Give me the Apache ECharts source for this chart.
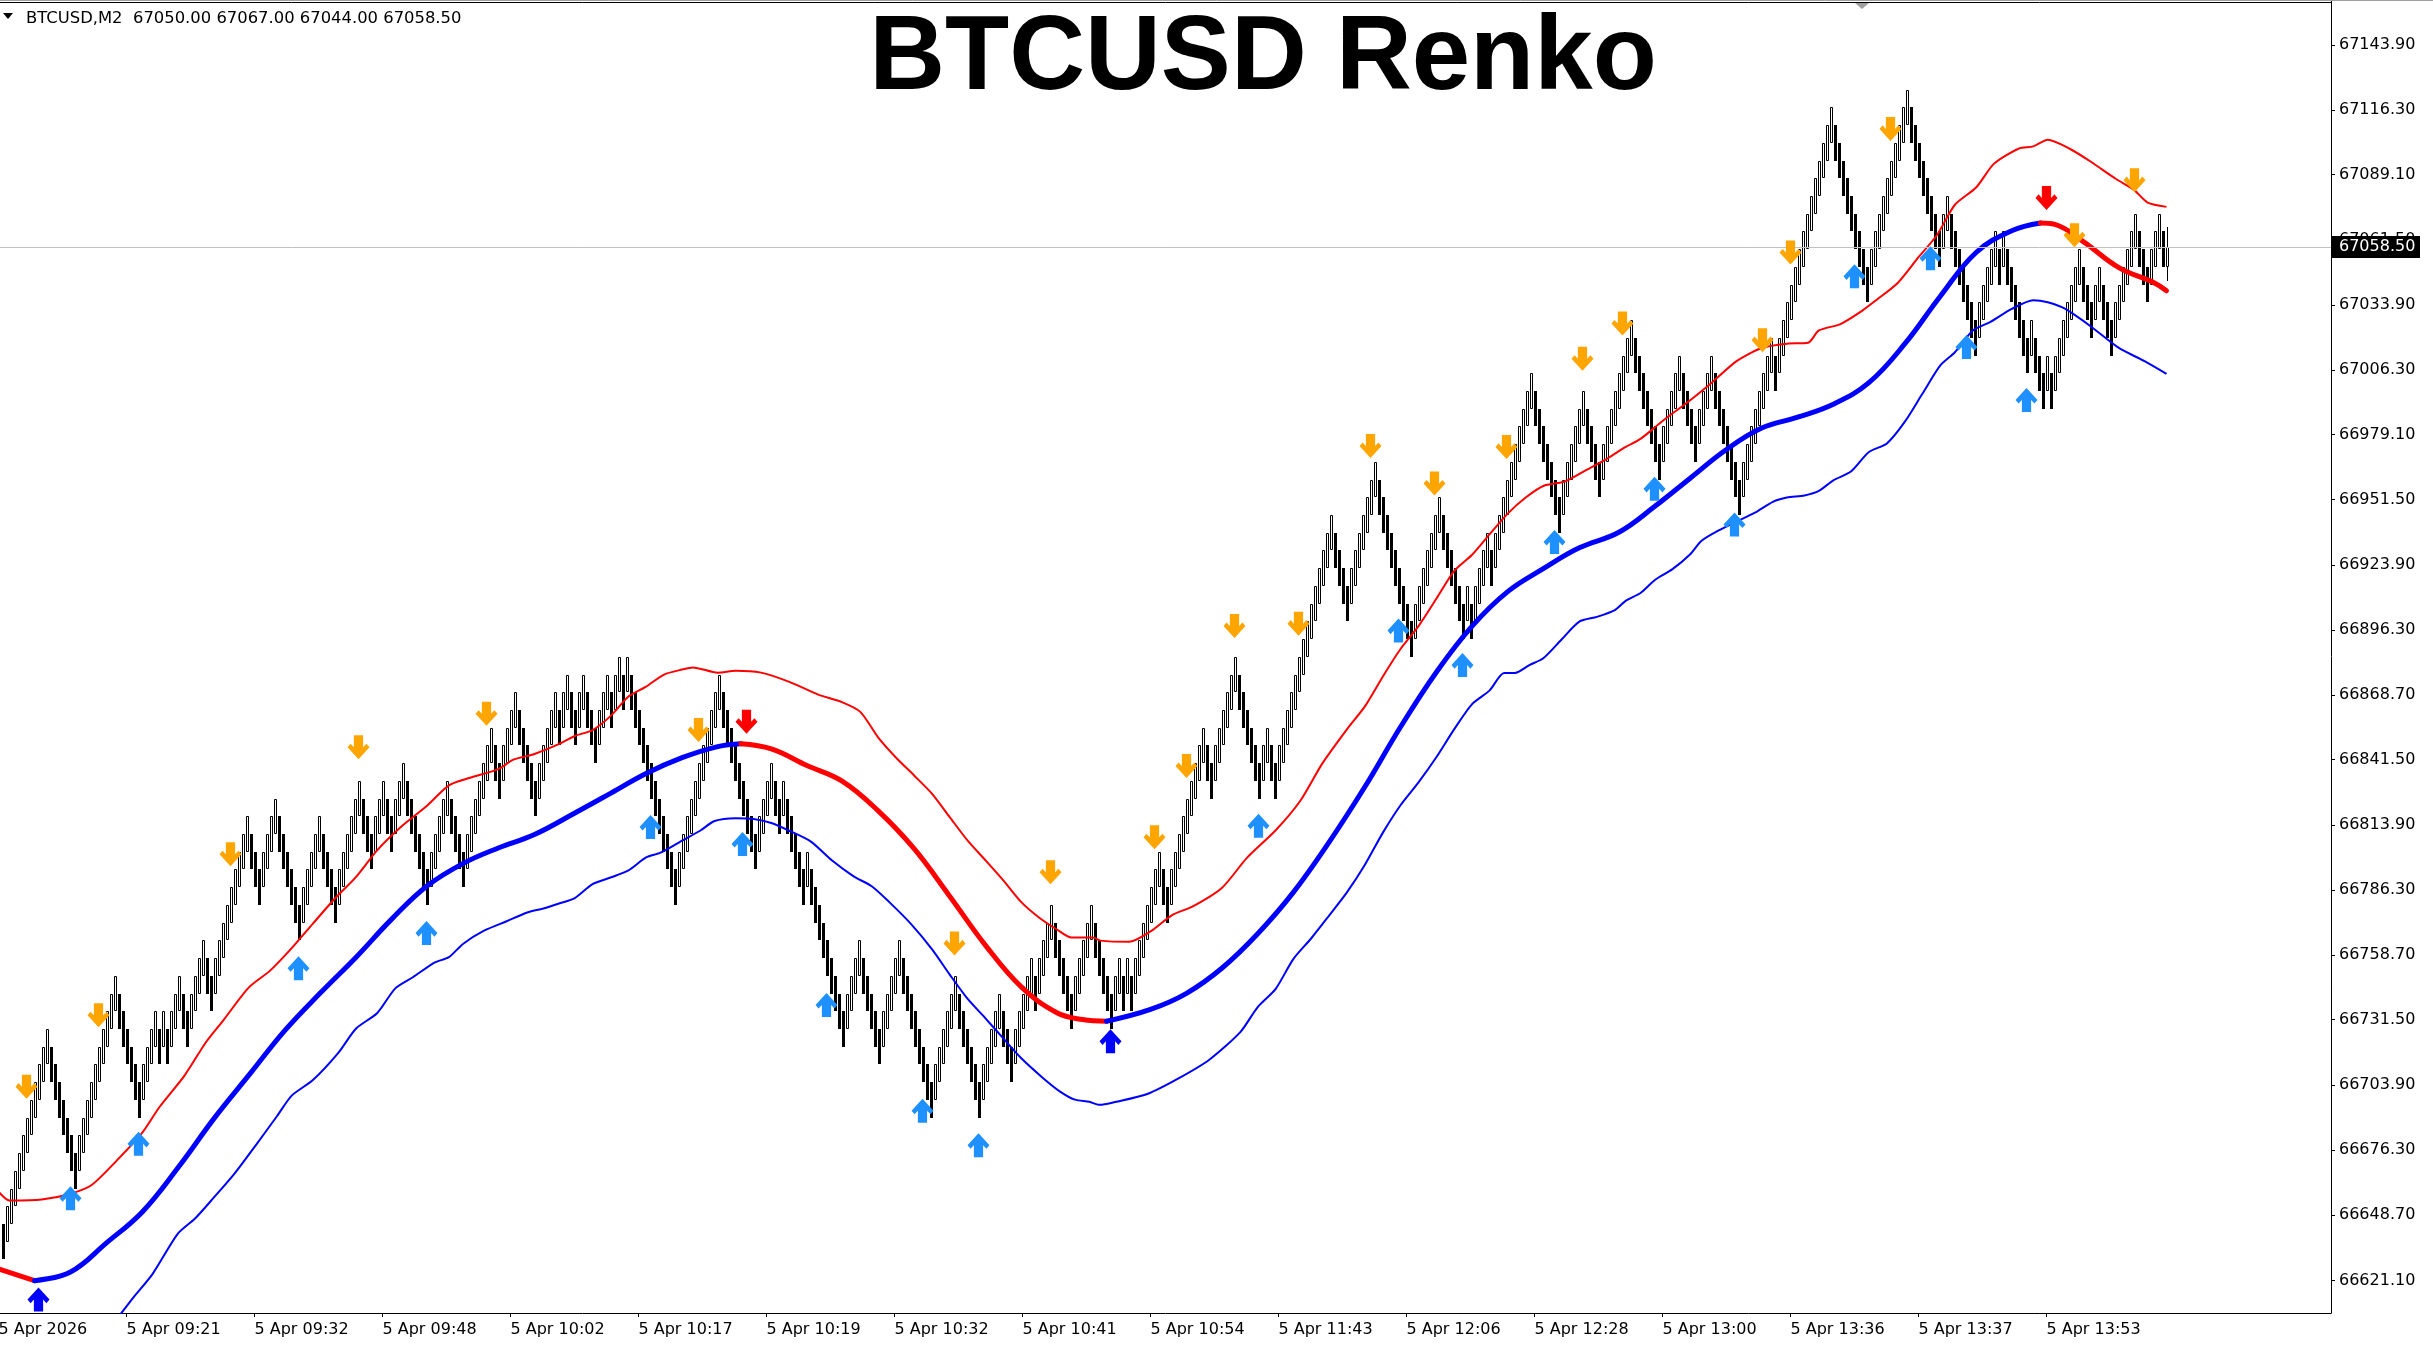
<!DOCTYPE html>
<html><head><meta charset="utf-8">
<script src="https://cdn.jsdelivr.net/npm/echarts@6/dist/echarts.min.js"></script>
<style>html,body{margin:0;padding:0;background:#fff;}#c{width:2433px;height:1347px;}</style>
</head><body><div id="c"></div><script>
// ---------------- DATA ----------------
const symbolTitle = 'BTCUSD Renko';
const headerText = 'BTCUSD,M2  67050.00 67067.00 67044.00 67058.50';
const BRICK_SIZE = 15;          // height of one Renko brick (price units)
const firstBrickUp = false;     // first visible brick is a bear (black) brick
// top price of each completed brick, left to right
const brickTops = [
66645,66652.5,66660,66667.5,66675,66682.5,66690,66697.5,66705,66712.5,
66720,66727.5,66720,66712.5,66705,66697.5,66690,66682.5,66675,66682.5,
66690,66697.5,66705,66712.5,66720,66727.5,66735,66742.5,66750,66742.5,
66735,66727.5,66720,66712.5,66705,66712.5,66720,66727.5,66735,66727.5,
66735,66727.5,66735,66742.5,66750,66742.5,66735,66742.5,66750,66757.5,
66765,66757.5,66750,66757.5,66765,66772.5,66780,66787.5,66795,66802.5,
66810,66817.5,66810,66802.5,66795,66802.5,66810,66817.5,66825,66817.5,
66810,66802.5,66795,66787.5,66780,66787.5,66795,66802.5,66810,66817.5,
66810,66802.5,66795,66787.5,66795,66802.5,66810,66817.5,66825,66832.5,
66825,66817.5,66810,66817.5,66825,66832.5,66825,66817.5,66825,66832.5,
66840,66832.5,66825,66817.5,66810,66802.5,66795,66802.5,66810,66817.5,
66825,66832.5,66825,66817.5,66810,66802.5,66810,66817.5,66825,66832.5,
66840,66847.5,66855,66847.5,66840,66847.5,66855,66862.5,66870,66862.5,
66855,66847.5,66840,66832.5,66840,66847.5,66855,66862.5,66870,66862.5,
66870,66877.5,66870,66862.5,66870,66877.5,66870,66862.5,66855,66862.5,
66870,66877.5,66870,66877.5,66885,66877.5,66885,66877.5,66870,66862.5,
66855,66847.5,66840,66832.5,66825,66817.5,66810,66802.5,66795,66802.5,
66810,66817.5,66825,66832.5,66840,66847.5,66855,66862.5,66870,66877.5,
66870,66862.5,66855,66847.5,66840,66832.5,66825,66817.5,66810,66817.5,
66825,66832.5,66840,66832.5,66825,66832.5,66825,66817.5,66810,66802.5,
66795,66802.5,66795,66787.5,66780,66772.5,66765,66757.5,66750,66742.5,
66735,66742.5,66750,66757.5,66765,66757.5,66750,66742.5,66735,66727.5,
66735,66742.5,66750,66757.5,66765,66757.5,66750,66742.5,66735,66727.5,
66720,66712.5,66705,66712.5,66720,66727.5,66735,66742.5,66750,66742.5,
66735,66727.5,66720,66712.5,66705,66712.5,66720,66727.5,66735,66742.5,
66735,66727.5,66720,66727.5,66735,66742.5,66750,66757.5,66750,66757.5,
66765,66772.5,66780,66772.5,66765,66757.5,66750,66742.5,66750,66757.5,
66765,66772.5,66780,66772.5,66765,66757.5,66750,66742.5,66750,66757.5,
66750,66757.5,66750,66757.5,66765,66772.5,66780,66787.5,66795,66802.5,
66795,66787.5,66795,66802.5,66810,66817.5,66825,66832.5,66840,66847.5,
66855,66847.5,66840,66847.5,66855,66862.5,66870,66877.5,66885,66877.5,
66870,66862.5,66855,66847.5,66840,66847.5,66855,66847.5,66840,66847.5,
66855,66862.5,66870,66877.5,66885,66892.5,66900,66907.5,66915,66922.5,
66930,66937.5,66945,66937.5,66930,66922.5,66915,66922.5,66930,66937.5,
66945,66952.5,66960,66967.5,66960,66952.5,66945,66937.5,66930,66922.5,
66915,66907.5,66900,66907.5,66915,66922.5,66930,66937.5,66945,66952.5,
66945,66937.5,66930,66922.5,66915,66907.5,66915,66907.5,66915,66922.5,
66930,66937.5,66930,66937.5,66945,66952.5,66960,66967.5,66975,66982.5,
66990,66997.5,67005,66997.5,66990,66982.5,66975,66967.5,66960,66952.5,
66960,66967.5,66975,66982.5,66990,66997.5,66990,66982.5,66975,66967.5,
66975,66982.5,66990,66997.5,67005,67012.5,67020,67027.5,67020,67012.5,
67005,66997.5,66990,66982.5,66975,66982.5,66990,66997.5,67005,67012.5,
67005,66997.5,66990,66982.5,66990,66997.5,67005,67012.5,67005,66997.5,
66990,66982.5,66975,66967.5,66960,66967.5,66975,66982.5,66990,66997.5,
67005,67012.5,67020,67012.5,67020,67027.5,67035,67042.5,67050,67057.5,
67065,67072.5,67080,67087.5,67095,67102.5,67110,67117.5,67110,67102.5,
67095,67087.5,67080,67072.5,67065,67057.5,67050,67057.5,67065,67072.5,
67080,67087.5,67095,67102.5,67110,67117.5,67125,67117.5,67110,67102.5,
67095,67087.5,67080,67072.5,67065,67072.5,67080,67072.5,67065,67057.5,
67050,67042.5,67035,67027.5,67035,67042.5,67050,67057.5,67065,67057.5,
67065,67057.5,67050,67042.5,67035,67027.5,67020,67027.5,67020,67012.5,
67005,67012.5,67005,67012.5,67020,67027.5,67035,67042.5,67050,67057.5,
67050,67042.5,67035,67042.5,67050,67042.5,67035,67027.5,67035,67042.5,
67050,67057.5,67065,67072.5,67065,67057.5,67050,67057.5,67065,67072.5,
67065
];
// forming (last) bar: open, close, low, high
const lastBar = [67050.00, 67058.50, 67044.00, 67067.00];
const priceNow = 67058.50;

// thick smoothed middle line [bar, price]
const maLine = [[-1,66626],[8,66621],[17,66624.7],[26,66637],[35,66650.2],[44,66669.1],[53,66689.9],[62,66708.8],[70.5,66726.7],[79.5,66742.8],[88.4,66757.9],[97.3,66774],[106.2,66788.1],[115.2,66797.6],[124.1,66804.2],[133,66809.8],[143.1,66818.9],[152,66827.2],[160.9,66835.6],[169.9,66842.3],[178.8,66847],[184.6,66848.2],[192.2,66846],[201.1,66839],[210,66832.3],[219,66819.7],[227.9,66803.8],[236.8,66783.7],[245.8,66762.8],[254.7,66745.3],[263.6,66734.4],[270,66731.5],[276,66730.8],[287,66735.8],[296,66742.6],[304.9,66753.3],[313.8,66767.8],[322.7,66785.3],[331.7,66806.7],[340.6,66830],[349.5,66855.3],[358.5,66878.6],[367.4,66898],[376.3,66912.6],[385.2,66922.3],[394.2,66931.1],[404.1,66937.7],[413.1,66948.7],[422,66960.7],[430.9,66972.6],[439.8,66981.8],[448.8,66986.4],[457.7,66991.9],[466.6,67001],[475.6,67017.5],[484.5,67037.7],[493.4,67056.1],[502.3,67065.3],[509.5,67068.6],[513.1,67068],[520.2,67060.7],[529.1,67049.7],[538,67043.2],[541,67039.9]];
// upper band (thin red)
const upperBand = [[-1,66658.7],[1.8,66654.9],[9.8,66655.3],[17,66657.8],[22.3,66661.5],[28.6,66671.9],[34.8,66683.3],[39.3,66694.6],[45.5,66707.8],[50.9,66722],[55.3,66731.4],[61.6,66745.1],[66.9,66752.2],[72.3,66761.7],[77.6,66772.1],[83,66782.5],[88.4,66791.9],[93.7,66803.2],[100,66813.6],[106.2,66822.1],[111.6,66830.6],[116.9,66833.8],[124.1,66837.6],[127.6,66841.4],[133,66843.9],[138.6,66847.7],[143.1,66851.5],[147.5,66854],[152,66859.9],[156.5,66868.2],[160.9,66872.4],[165.4,66877.5],[169.9,66879.6],[172.6,66880.5],[178.8,66878.3],[183.3,66879.1],[189.6,66878.3],[196.7,66874.4],[203.8,66869.1],[210,66865.7],[214.5,66861.6],[219,66850.7],[223.4,66842.3],[227.9,66834.8],[232.3,66827.2],[236.8,66817.2],[241.3,66807.2],[245.8,66798.8],[250.2,66790.4],[254.7,66781.2],[259.2,66774.6],[263.6,66769.6],[267.2,66766.2],[272.6,66766.2],[274.5,66764.9],[281.6,66764.4],[287,66768.8],[292.3,66775.6],[297.7,66779.5],[304.9,66787.3],[311.1,66799.9],[318.3,66811.6],[324.5,66824.2],[329.9,66839.7],[336.1,66854.3],[340.6,66864],[345.1,66876.7],[349.5,66888.3],[354,66898],[358.5,66909.7],[362.9,66921.3],[367.4,66928.2],[371.8,66936.9],[376.3,66945.6],[380.8,66952.4],[385.2,66957.3],[390.6,66959.2],[396,66964.1],[401.3,66969],[405.8,66973.8],[409.5,66977.2],[414.8,66984.5],[422,66993.7],[427.3,67001],[433.6,67010.2],[439.8,67015.7],[446.1,67017.5],[451.4,67017.9],[454.1,67023.1],[459.5,67025.8],[464.8,67031.3],[468.4,67035.9],[473.8,67043.2],[479.1,67054.3],[483.6,67063.4],[488.1,67076.3],[493.4,67083.6],[497.9,67093.7],[504.1,67100.1],[507.7,67101],[511.3,67103.8],[516.7,67100.1],[522,67094.6],[528.3,67087.3],[532.8,67082.7],[536.3,67077.2],[541,67075.4]];
// lower band (thin blue)
const lowerBand = [[22,66590],[32.2,66612.8],[37.5,66623.8],[43.8,66640.8],[48.2,66647.4],[52.7,66655.9],[58,66666.3],[63.4,66678.5],[68.7,66690.8],[72.3,66699.3],[77.6,66705.9],[83.9,66717.3],[88.4,66727.7],[93.7,66734.3],[98.2,66744.7],[102.6,66749.4],[108,66755.6],[111.6,66757.9],[115.2,66763.6],[120.5,66769.2],[125.9,66773],[131.2,66776.8],[135.7,66778.7],[139.1,66780.6],[143.1,66782.9],[147.5,66788.8],[152,66791.6],[156.5,66794.6],[160.9,66800.1],[164.5,66802.1],[169.9,66807.2],[174.4,66811.4],[178,66815.5],[183.3,66816.7],[187.8,66816.4],[192.2,66814.7],[196.7,66811.4],[202.1,66806.8],[207.4,66798.8],[212.8,66792.1],[217.3,66787.9],[221.7,66781.2],[227.1,66772],[232.4,66761.2],[236.9,66750.3],[241.3,66740.2],[245.8,66731.9],[250.2,66723.5],[254.7,66715.1],[260.1,66706.8],[264.5,66700.9],[268.1,66697.6],[271.7,66696.7],[274.2,66695.4],[278.4,66696.7],[286.2,66700],[294,66706.6],[301.7,66714.5],[309.5,66726.3],[313.8,66736.8],[318.3,66744.5],[322.7,66757.1],[327.2,66765.9],[331.7,66775.6],[336.1,66785.3],[340.6,66797],[345.1,66810.6],[349.5,66822.2],[354,66831.9],[358.5,66842.6],[362.9,66854.3],[367.4,66865],[371.8,66870.8],[375.4,66878.2],[378.1,66878.2],[381.7,66881.5],[385.2,66884.4],[389.7,66892.2],[394.2,66899.9],[398.6,66901.9],[403.1,66904.8],[405.8,66908.7],[409.5,66912],[413.1,66917.5],[417.5,66922.1],[422,66928.5],[424.7,66934],[429.2,66938.6],[433.6,66942.3],[438.1,66946],[442.6,66950.6],[446.1,66952.4],[450.5,66953.3],[454.1,66955.2],[457.7,66959.7],[462.1,66963.4],[466.6,66971.7],[471.1,66975.3],[475.6,66984.5],[480,66996.4],[484.5,67008.4],[488.1,67013.9],[492.6,67023.1],[497,67026.7],[502.3,67032.2],[507.7,67035.9],[511.3,67035],[515.7,67032.2],[522,67024.9],[529.1,67015.7],[535.4,67010.2],[541,67004.7]];
// signal arrows [bar, price]
const orangeDown = [[6,66703.1],[24,66733.3],[57,66801.4],[89,66846.7],[121,66860.9],[174,66854],[238,66763.7],[262,66793.8],[288,66808.6],[296,66838.8],[308,66898],[324,66899],[342,66974.2],[358,66958.3],[376,66973.8],[395,67011.1],[405,67026],[440,67019],[447,67056.1],[472,67108.4],[518,67063.4],[533,67086.7]];
const lightUp = [[17,66655.9],[34,66678.9],[74,66753.2],[106,66768.1],[162,66813],[185,66805.8],[206,66737.7],[230,66692.9],[244,66678.3],[314,66813.5],[349,66896.1],[365,66881.5],[388,66933.6],[413,66956.1],[433,66941],[463,67046],[482,67053.7],[491,67016.1],[506,66993.7]];
const blueUp = [[9,66613],[277,66722.3]];
const redDown = [[186,66857.5],[511,67079.2]];
// axis labels
const priceTicks = [67143.90,67116.30,67089.10,67061.50,67033.90,67006.30,66979.10,66951.50,66923.90,66896.30,66868.70,66841.50,66813.90,66786.30,66758.70,66731.50,66703.90,66676.30,66648.70,66621.10];
const timeLabels = ['5 Apr 2026','5 Apr 09:21','5 Apr 09:32','5 Apr 09:48','5 Apr 10:02','5 Apr 10:17','5 Apr 10:19','5 Apr 10:32','5 Apr 10:41','5 Apr 10:54','5 Apr 11:43','5 Apr 12:06','5 Apr 12:28','5 Apr 13:00','5 Apr 13:36','5 Apr 13:37','5 Apr 13:53'];
const timeLabelBars = [-1,31,63,95,127,159,191,223,255,287,319,351,383,415,447,479,511];

// ---------------- BUILD ----------------
const FONT = '"DejaVu Sans", "Noto Sans", sans-serif';
const X_MIN = -0.625, X_MAX = 582.125;   // bar index range visible in the plot
const brickData = brickTops.map((top, i) => {
  const up = i === 0 ? firstBrickUp : top > brickTops[i - 1];
  const open = up ? top - BRICK_SIZE : top;
  const close = up ? top : top - BRICK_SIZE;
  return [i, open, close, top - BRICK_SIZE, top];
});
brickData.push([brickTops.length, lastBar[0], lastBar[1], lastBar[2], lastBar[3]]);

function renderBrick(params, api) {
  const i = api.value(0), o = api.value(1), c = api.value(2), lo = api.value(3), hi = api.value(4);
  const bodyHi = Math.max(o, c), bodyLo = Math.min(o, c);
  const pT = api.coord([i, bodyHi]), pB = api.coord([i, bodyLo]);
  const cx = Math.round(pT[0]);
  const yT = Math.round(pT[1]), yB = Math.round(pB[1]);
  const kids = [];
  if (hi > bodyHi + 1e-9 || lo < bodyLo - 1e-9) {
    const ph = api.coord([i, hi]), pl = api.coord([i, lo]);
    kids.push({type: 'line', shape: {x1: cx + 0.5, y1: Math.round(ph[1]), x2: cx + 0.5, y2: Math.round(pl[1])}, style: {stroke: '#000', lineWidth: 1}});
  }
  if (c > o) {
    kids.push({type: 'rect', shape: {x: cx - 0.5, y: yT + 0.5, width: 2, height: Math.max(1, yB - yT - 1)}, style: {fill: '#fff', stroke: '#000', lineWidth: 1}});
  } else {
    kids.push({type: 'rect', shape: {x: cx - 1, y: yT, width: 3, height: Math.max(1, yB - yT)}, style: {fill: '#000'}});
  }
  return {type: 'group', children: kids};
}

function colourRuns(points) {
  const runs = [];
  let cur = null;
  for (let k = 0; k < points.length - 1; k++) {
    const up = points[k + 1][1] >= points[k][1];
    if (!cur || cur.up !== up) { cur = {up: up, pts: [points[k]]}; runs.push(cur); }
    cur.pts.push(points[k + 1]);
  }
  return runs;
}

const DOWN_PATH = 'path://M29,0 L71,0 L71,50 L86,35 L100,50 L50,100 L0,50 L14,35 L29,50 Z';
const UP_PATH = 'path://M29,100 L71,100 L71,50 L86,65 L100,50 L50,0 L0,50 L14,65 L29,50 Z';
function arrowSeries(data, path, color) {
  return {type: 'scatter', data: data, symbol: path, symbolSize: [22, 24], itemStyle: {color: color, opacity: 1},
    z: 6, silent: true, animation: false, clip: true};
}

const series = [
  {type: 'line', data: [], z: 1, silent: true, animation: false,
   markLine: {silent: true, symbol: 'none', animation: false, label: {show: false},
     lineStyle: {color: '#C0C0C0', width: 1, type: 'solid'}, data: [{yAxis: priceNow}]}},
  {type: 'custom', renderItem: renderBrick, data: brickData, encode: {x: 0, y: [1, 2, 3, 4]}, z: 2, clip: true, silent: true, animation: false},
  {type: 'line', data: upperBand, symbol: 'none', smooth: 0.25, lineStyle: {color: '#FF0000', width: 2}, z: 3, silent: true, animation: false},
  {type: 'line', data: lowerBand, symbol: 'none', smooth: 0.25, lineStyle: {color: '#0000FF', width: 2}, z: 3, silent: true, animation: false}
];
colourRuns(maLine).forEach(r => series.push({type: 'line', data: r.pts, symbol: 'none', smooth: 0.4,
  lineStyle: {color: r.up ? '#0000FF' : '#FF0000', width: 5, cap: 'round'}, z: 4, silent: true, animation: false}));
series.push(arrowSeries(orangeDown, DOWN_PATH, '#FFA500'));
series.push(arrowSeries(lightUp, UP_PATH, '#1E90FF'));
series.push(arrowSeries(blueUp, UP_PATH, '#0000FF'));
series.push(arrowSeries(redDown, DOWN_PATH, '#FF0000'));

const inRangeBars = timeLabelBars.filter(b => b >= X_MIN && b <= X_MAX);
const chart = echarts.init(document.getElementById('c'), null, {renderer: 'canvas'});
chart.setOption({
  animation: false,
  backgroundColor: '#fff',
  grid: {left: 0, right: 102, top: 0, bottom: 34, containLabel: false},
  xAxis: {type: 'value', min: X_MIN, max: X_MAX,
    axisLine: {show: true, onZero: false, lineStyle: {color: '#000', width: 1}},
    splitLine: {show: false},
    axisTick: {show: true, customValues: inRangeBars, length: 4, lineStyle: {color: '#000'}},
    axisLabel: {show: true, customValues: inRangeBars, align: 'left', margin: 9,
      fontFamily: FONT, fontSize: 16, color: '#000',
      formatter: v => { const k = timeLabelBars.indexOf(Math.round(v)); return k >= 0 ? timeLabels[k] : ''; }}},
  yAxis: {type: 'value', position: 'right', min: 66607.32, max: 67162.94, scale: true,
    axisLine: {show: true, onZero: false, lineStyle: {color: '#000', width: 1}},
    splitLine: {show: false},
    axisTick: {show: true, customValues: priceTicks, length: 4, lineStyle: {color: '#000'}},
    axisLabel: {show: true, customValues: priceTicks, margin: 8, fontFamily: FONT, fontSize: 16, color: '#000',
      formatter: v => v.toFixed(2)}},
  series: series
});

const py = chart.convertToPixel({yAxisIndex: 0}, priceNow);
const graphics = [
  {type: 'line', shape: {x1: 0, y1: 0.5, x2: 2433, y2: 0.5}, style: {stroke: '#A0A0A0', lineWidth: 1}, z: 10},
  {type: 'line', shape: {x1: 0, y1: 2.5, x2: 2331, y2: 2.5}, style: {stroke: '#000', lineWidth: 1}, z: 10},
  {type: 'polygon', shape: {points: [[1855, 3], [1869, 3], [1862, 9]]}, style: {fill: '#A0A0A0'}, z: 10},
  {type: 'polygon', shape: {points: [[3, 13], [13, 13], [8, 19]]}, style: {fill: '#000'}, z: 10},
  {type: 'text', x: 26, y: 19, style: {text: headerText, font: '16.4px ' + FONT, fill: '#000', textVerticalAlign: 'middle'}, z: 10},
  {type: 'text', x: 1263, y: 60, style: {text: symbolTitle, fontSize: 105, fontWeight: 'bold', fontFamily: '"Liberation Sans", Arial, sans-serif', fill: '#000', textAlign: 'center', textVerticalAlign: 'middle'}, z: 10},
  {type: 'rect', shape: {x: 2331, y: Math.round(py) - 11, width: 89, height: 22}, style: {fill: '#000'}, z: 20},
  {type: 'text', x: 2339, y: Math.round(py), style: {text: priceNow.toFixed(2), font: '16px ' + FONT, fill: '#fff', textVerticalAlign: 'middle'}, z: 21}
];
// time labels whose bar lies just left of the visible range (drawn where the axis would put them)
const axisY = chart.convertToPixel({yAxisIndex: 0}, 66607.32);
timeLabelBars.forEach((b, k) => {
  if (b < X_MIN) {
    const px = chart.convertToPixel({xAxisIndex: 0}, b);
    graphics.push({type: 'text', x: px, y: axisY + 9, style: {text: timeLabels[k], font: '16px ' + FONT, fill: '#000', textVerticalAlign: 'top'}, z: 10});
  }
});
chart.setOption({graphic: graphics});
</script></body></html>
